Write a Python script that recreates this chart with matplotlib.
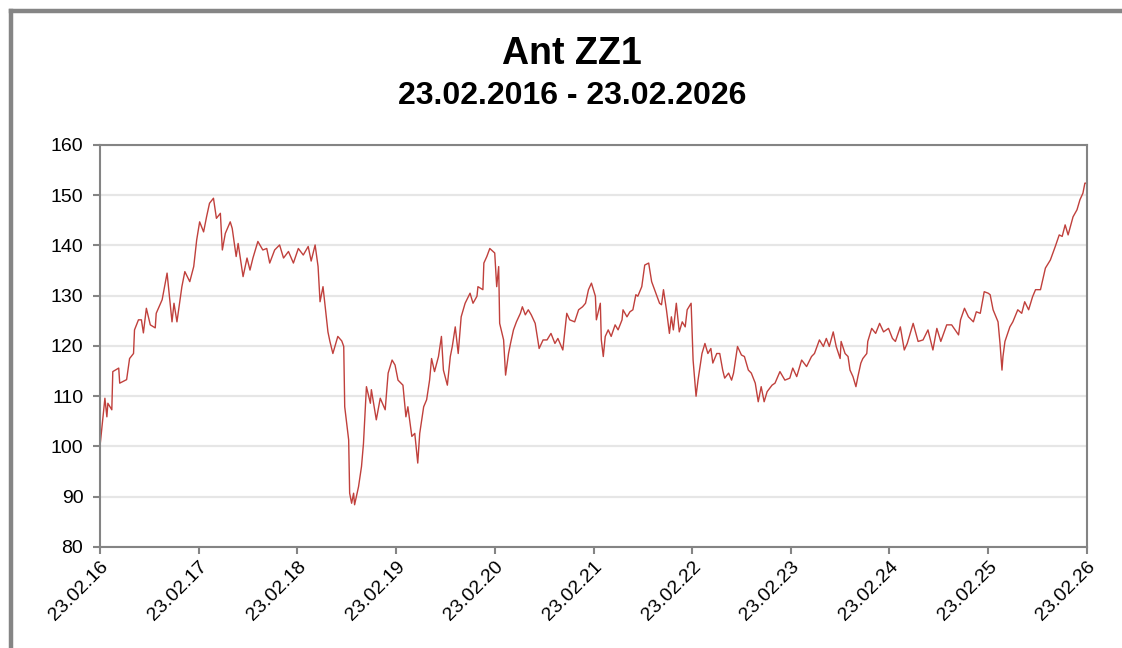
import matplotlib.pyplot as plt
import matplotlib.dates as mdates
from matplotlib.lines import Line2D
import numpy as np
import pandas as pd

plt.rcParams['font.family'] = ['Liberation Sans', 'DejaVu Sans']

title = 'Ant ZZ1'
subtitle = '23.02.2016 - 23.02.2026'
start = '2016-02-23'

# years since 23.02.2016
years = [0.00, 0.05, 0.07, 0.08, 0.12, 0.13, 0.19, 0.20, 0.27, 0.30,
         0.34, 0.35, 0.39, 0.42, 0.44, 0.47, 0.51, 0.56, 0.57, 0.63,
         0.68, 0.73, 0.75, 0.78, 0.83, 0.86, 0.91, 0.95, 0.98, 1.01,
         1.05, 1.08, 1.11, 1.15, 1.18, 1.22, 1.24, 1.27, 1.32, 1.34,
         1.38, 1.40, 1.45, 1.49, 1.52, 1.55, 1.60, 1.65, 1.69, 1.72,
         1.77, 1.82, 1.86, 1.91, 1.96, 2.01, 2.06, 2.11, 2.14, 2.18,
         2.21, 2.23, 2.26, 2.28, 2.31, 2.33, 2.36, 2.41, 2.45, 2.47,
         2.48, 2.50, 2.52, 2.53, 2.55, 2.57, 2.58, 2.62, 2.65, 2.67,
         2.70, 2.74, 2.75, 2.80, 2.84, 2.89, 2.92, 2.96, 2.99, 3.02,
         3.07, 3.10, 3.12, 3.16, 3.19, 3.22, 3.24, 3.28, 3.31, 3.34,
         3.36, 3.39, 3.43, 3.46, 3.48, 3.52, 3.55, 3.57, 3.60, 3.63,
         3.66, 3.70, 3.75, 3.78, 3.82, 3.83, 3.88, 3.89, 3.92, 3.95,
         4.00, 4.02, 4.04, 4.05, 4.09, 4.11, 4.14, 4.16, 4.19, 4.22,
         4.26, 4.28, 4.31, 4.34, 4.37, 4.41, 4.45, 4.49, 4.53, 4.57,
         4.61, 4.64, 4.69, 4.73, 4.76, 4.81, 4.85, 4.89, 4.92, 4.95,
         4.98, 5.02, 5.03, 5.07, 5.08, 5.10, 5.12, 5.15, 5.18, 5.22,
         5.25, 5.29, 5.30, 5.34, 5.37, 5.40, 5.43, 5.45, 5.49, 5.52,
         5.56, 5.59, 5.62, 5.67, 5.69, 5.71, 5.74, 5.77, 5.79, 5.81,
         5.84, 5.87, 5.90, 5.93, 5.95, 5.99, 6.01, 6.04, 6.06, 6.10,
         6.13, 6.16, 6.19, 6.21, 6.25, 6.28, 6.31, 6.33, 6.37, 6.40,
         6.42, 6.46, 6.50, 6.53, 6.57, 6.60, 6.64, 6.67, 6.70, 6.73,
         6.76, 6.81, 6.84, 6.89, 6.94, 6.99, 7.02, 7.06, 7.11, 7.16,
         7.21, 7.24, 7.29, 7.33, 7.36, 7.39, 7.43, 7.46, 7.50, 7.51,
         7.55, 7.58, 7.60, 7.63, 7.66, 7.68, 7.71, 7.73, 7.77, 7.78,
         7.82, 7.86, 7.90, 7.94, 7.99, 8.03, 8.06, 8.11, 8.15, 8.18,
         8.24, 8.29, 8.34, 8.39, 8.44, 8.48, 8.52, 8.58, 8.63, 8.70,
         8.72, 8.76, 8.80, 8.85, 8.88, 8.92, 8.96, 9.00, 9.02, 9.05,
         9.10, 9.12, 9.14, 9.15, 9.17, 9.22, 9.25, 9.30, 9.34, 9.37,
         9.41, 9.45, 9.48, 9.53, 9.58, 9.63, 9.68, 9.72, 9.75, 9.78,
         9.81, 9.86, 9.90, 9.93, 9.96, 9.98, 10.00]

values = [100.0, 109.6, 105.9, 108.6, 107.3, 114.9, 115.6, 112.6, 113.3, 117.5,
          118.5, 123.2, 125.2, 125.2, 122.6, 127.5, 124.2, 123.6, 126.5, 129.2,
          134.5, 124.8, 128.5, 124.8, 131.8, 134.8, 132.8, 135.8, 141.1, 144.7,
          142.7, 145.7, 148.4, 149.4, 145.4, 146.4, 139.1, 142.4, 144.7, 143.4,
          137.8, 140.4, 133.8, 137.5, 135.1, 137.5, 140.8, 139.1, 139.4, 136.5,
          139.1, 140.1, 137.5, 138.8, 136.5, 139.4, 138.1, 139.8, 136.9, 140.1,
          135.8, 128.8, 131.8, 128.2, 122.8, 120.9, 118.5, 121.9, 121.0, 119.9,
          107.9, 104.6, 101.3, 90.7, 88.7, 90.7, 88.4, 92.0, 96.0, 100.6,
          111.9, 108.6, 111.3, 105.3, 109.6, 107.3, 114.6, 117.2, 116.2, 113.2,
          112.2, 105.9, 107.9, 102.0, 102.6, 96.7, 102.6, 107.9, 109.3, 113.2,
          117.5, 114.9, 117.9, 121.9, 115.2, 112.2, 117.9, 119.9, 123.8, 118.5,
          125.8, 128.5, 130.5, 128.5, 129.9, 131.8, 131.2, 136.5, 137.8, 139.4,
          138.5, 131.8, 135.8, 124.5, 121.2, 114.2, 118.5, 120.5, 123.2, 124.8,
          126.5, 127.8, 126.2, 127.2, 126.2, 124.5, 119.5, 121.2, 121.2, 122.5,
          120.5, 121.5, 119.2, 126.5, 125.2, 124.8, 127.2, 127.8, 128.5, 131.2,
          132.5, 129.9, 125.2, 128.5, 121.2, 117.9, 121.9, 123.2, 121.9, 124.2,
          123.2, 125.2, 127.2, 125.8, 126.8, 127.2, 130.2, 129.9, 131.8, 136.1,
          136.5, 132.8, 131.2, 128.5, 128.2, 131.2, 127.2, 122.5, 125.8, 123.2,
          128.5, 122.8, 124.8, 123.8, 127.2, 128.5, 117.2, 110.0, 113.2, 118.5,
          120.5, 118.5, 119.5, 116.6, 118.5, 118.5, 115.2, 113.6, 114.6, 113.2,
          114.6, 119.9, 118.2, 117.9, 115.2, 114.6, 112.6, 108.9, 111.9, 108.9,
          110.9, 112.2, 112.6, 114.9, 113.2, 113.6, 115.6, 113.9, 117.2, 115.9,
          117.9, 118.5, 121.2, 119.9, 121.5, 119.9, 122.8, 119.9, 117.5, 120.9,
          118.5, 117.9, 115.2, 113.9, 111.9, 113.9, 116.6, 117.5, 118.5, 120.9,
          123.5, 122.5, 124.5, 122.8, 123.5, 121.5, 120.9, 123.8, 119.2, 120.5,
          124.5, 120.9, 121.2, 123.2, 119.2, 123.5, 120.9, 124.2, 124.2, 122.2,
          125.2, 127.5, 125.8, 124.8, 126.8, 126.5, 130.8, 130.5, 130.2, 127.2,
          124.8, 120.5, 115.2, 117.9, 120.9, 123.8, 124.8, 127.2, 126.5, 128.8,
          127.2, 129.8, 131.2, 131.2, 135.5, 137.1, 139.8, 142.1, 141.8, 144.1,
          142.1, 145.7, 147.1, 149.1, 150.4, 152.4, 152.4]

tick_years = list(range(2016, 2027))
y_ticks = [80, 90, 100, 110, 120, 130, 140, 150, 160]

dates = pd.Timestamp(start) + pd.to_timedelta(np.array(years) * 365.25, unit='D')
tick_dates = [pd.Timestamp(f'{y}-02-23') for y in tick_years]

fig = plt.figure(figsize=(11.22, 6.48), dpi=100)
ax = fig.add_axes([0.0891, 0.1559, 0.8797, 0.6204])

ax.plot(dates, values, color='#c0403c', lw=1.0)

ax.set_ylim(80, 160)
ax.set_yticks(y_ticks)
ax.set_xlim(tick_dates[0], tick_dates[-1])
ax.set_xticks(tick_dates)
ax.xaxis.set_major_formatter(mdates.DateFormatter('%d.%m.%y'))
ax.grid(axis='y', color='#e6e6e6', lw=1.6)
ax.set_axisbelow(True)

for s in ax.spines.values():
    s.set_color('#848484')
    s.set_linewidth(1.5)
ax.tick_params(axis='both', colors='#848484', length=5, width=1.5,
               labelcolor='black', labelsize=14)
ax.tick_params(axis='y', pad=7)
ax.tick_params(axis='x', pad=3)
for lbl in ax.get_xticklabels():
    lbl.set_rotation(45)
    lbl.set_ha('right')
    lbl.set_va('top')
    lbl.set_rotation_mode('anchor')

fig.text(0.51, 0.917, title, ha='center', va='center', fontsize=27, fontweight='bold')
fig.text(0.51, 0.852, subtitle, ha='center', va='center', fontsize=23, fontweight='bold')

# outer frame (top and left edges)
fig.add_artist(Line2D([11 / 1122, 1], [1 - 11 / 648] * 2, color='#858585', lw=3.2))
fig.add_artist(Line2D([11 / 1122] * 2, [0, 1 - 11 / 648], color='#858585', lw=3.2))

fig.savefig('out.png', dpi=100)
